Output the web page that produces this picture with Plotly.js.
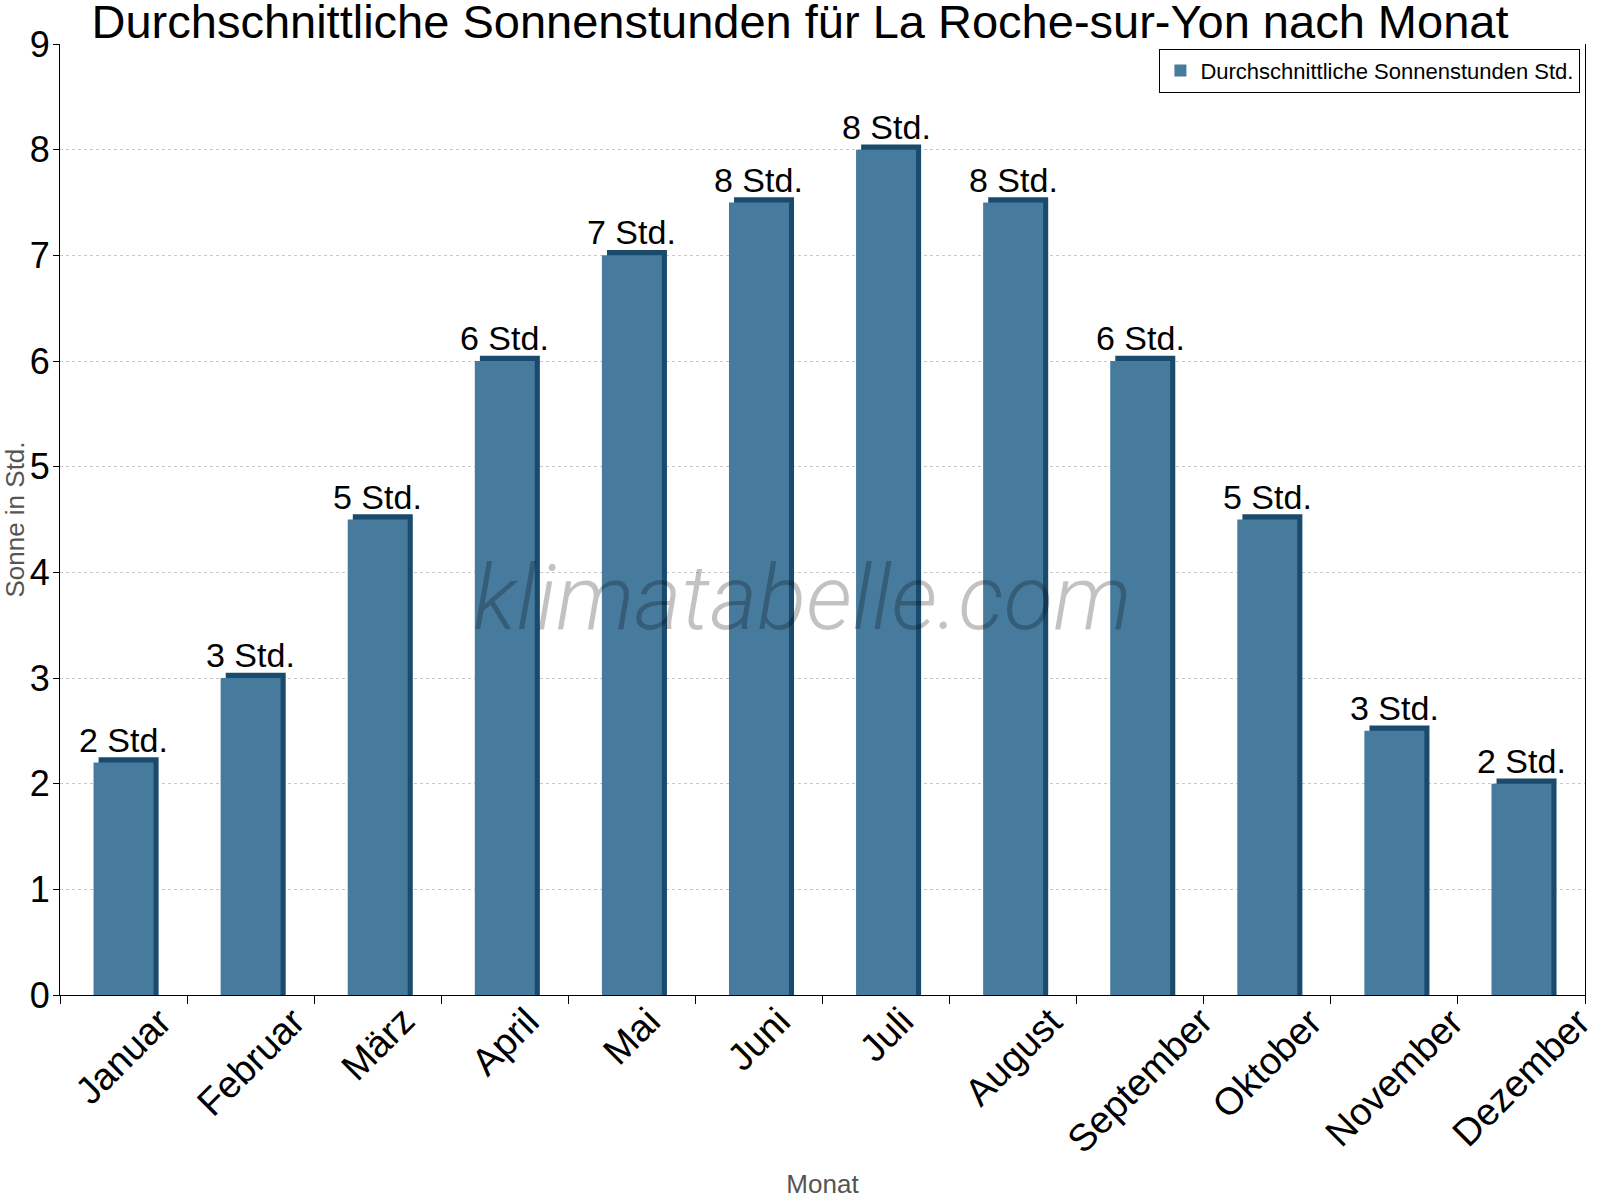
<!DOCTYPE html>
<html>
<head>
<meta charset="utf-8">
<script src="https://cdn.plot.ly/plotly-3.0.1.min.js"></script>
<style>
  html, body { margin: 0; padding: 0; background: #fff; }
  #chart { width: 1600px; height: 1200px; }
</style>
</head>
<body>
<div id="chart"></div>
<script>
var months = ['Januar', 'Februar', 'März', 'April', 'Mai', 'Juni',
              'Juli', 'August', 'September', 'Oktober', 'November', 'Dezember'];
var sun_hours = [2.2, 3.0, 4.5, 6.0, 7.0, 7.5, 8.0, 7.5, 6.0, 4.5, 2.5, 2.0];
var series_name = 'Durchschnittliche Sonnenstunden Std.';

var font_family = '"Liberation Sans", Arial, sans-serif';
var front_color = '#467b9e';
var side_color = '#1a4b6c';

// bar geometry, in category / value units
var bar_width = 0.472;
var depth_x = 0.04;
var depth_y = 0.05;

// darker copy, shifted right and up, gives the 3d edge
var side = {
    type: 'bar',
    x: months,
    y: sun_hours.map(function (v) { return v + depth_y; }),
    width: bar_width,
    offset: -bar_width / 2 + depth_x,
    marker: { color: side_color, line: { width: 0 } },
    hoverinfo: 'skip',
    showlegend: false
};

var front = {
    type: 'bar',
    x: months,
    y: sun_hours,
    name: series_name,
    width: bar_width,
    offset: -bar_width / 2,
    marker: { color: front_color, line: { width: 0 } },
    showlegend: true
};

var annotations = [];
for (var i = 0; i < months.length; i++) {
    // value label on top of the bar
    annotations.push({
        x: months[i],
        y: sun_hours[i],
        xref: 'x',
        yref: 'y',
        text: Math.round(sun_hours[i]) + ' Std.',
        showarrow: false,
        yanchor: 'bottom',
        yshift: 2,
        font: { family: font_family, size: 34, color: '#000' }
    });
    // month label, rotated and centred under its bar
    annotations.push({
        x: months[i],
        y: 0,
        xref: 'x',
        yref: 'y',
        text: months[i],
        textangle: -45,
        showarrow: false,
        xanchor: 'center',
        yanchor: 'top',
        yshift: -2,
        font: { family: font_family, size: 38, color: '#000' }
    });
}

// watermark
annotations.push({
    x: 0.487,
    y: 0.417,
    xref: 'paper',
    yref: 'paper',
    text: 'klimatabelle.com',
    showarrow: false,
    font: { family: 'Roboto, sans-serif', size: 91, color: 'rgba(0,0,0,0.24)', style: 'italic', weight: 300 }
});

var layout = {
    width: 1600,
    height: 1200,
    paper_bgcolor: '#fff',
    plot_bgcolor: '#fff',
    font: { family: font_family, color: '#000' },
    title: {
        text: 'Durchschnittliche Sonnenstunden für La Roche-sur-Yon nach Monat',
        font: { family: font_family, size: 47, color: '#000' },
        x: 0.5,
        xanchor: 'center',
        y: 0.9817,
        yanchor: 'middle'
    },
    barmode: 'overlay',
    margin: { l: 60, r: 15, t: 44, b: 205 },
    xaxis: {
        type: 'category',
        range: [-0.5, months.length - 0.5],
        autorange: false,
        showline: true,
        linecolor: '#000',
        linewidth: 1,
        ticks: 'outside',
        tickson: 'boundaries',
        ticklen: 8,
        tickcolor: '#000',
        showticklabels: false,
        showgrid: false,
        zeroline: false,
        title: {
            text: 'Monat',
            font: { family: font_family, size: 26, color: '#555' },
            standoff: 179
        }
    },
    yaxis: {
        range: [0, 9],
        autorange: false,
        dtick: 1,
        showline: true,
        mirror: true,
        linecolor: '#000',
        linewidth: 1,
        ticks: 'outside',
        ticklen: 6,
        tickcolor: '#000',
        ticklabelstandoff: -4,
        tickfont: { family: font_family, size: 36, color: '#000' },
        showgrid: true,
        gridcolor: '#c8c8c8',
        griddash: 'dot',
        gridwidth: 1,
        zeroline: false,
        title: {
            text: 'Sonne in Std.',
            font: { family: font_family, size: 26, color: '#555' },
            standoff: 4
        }
    },
    legend: {
        x: 0.997,
        xanchor: 'right',
        y: 0.995,
        yanchor: 'top',
        bgcolor: '#fff',
        bordercolor: '#000',
        borderwidth: 1,
        font: { family: font_family, size: 22, color: '#000' }
    },
    annotations: annotations,
    showlegend: true
};

var config = { displayModeBar: false, staticPlot: true };
Plotly.newPlot('chart', [side, front], layout, config);
</script>
</body>
</html>
